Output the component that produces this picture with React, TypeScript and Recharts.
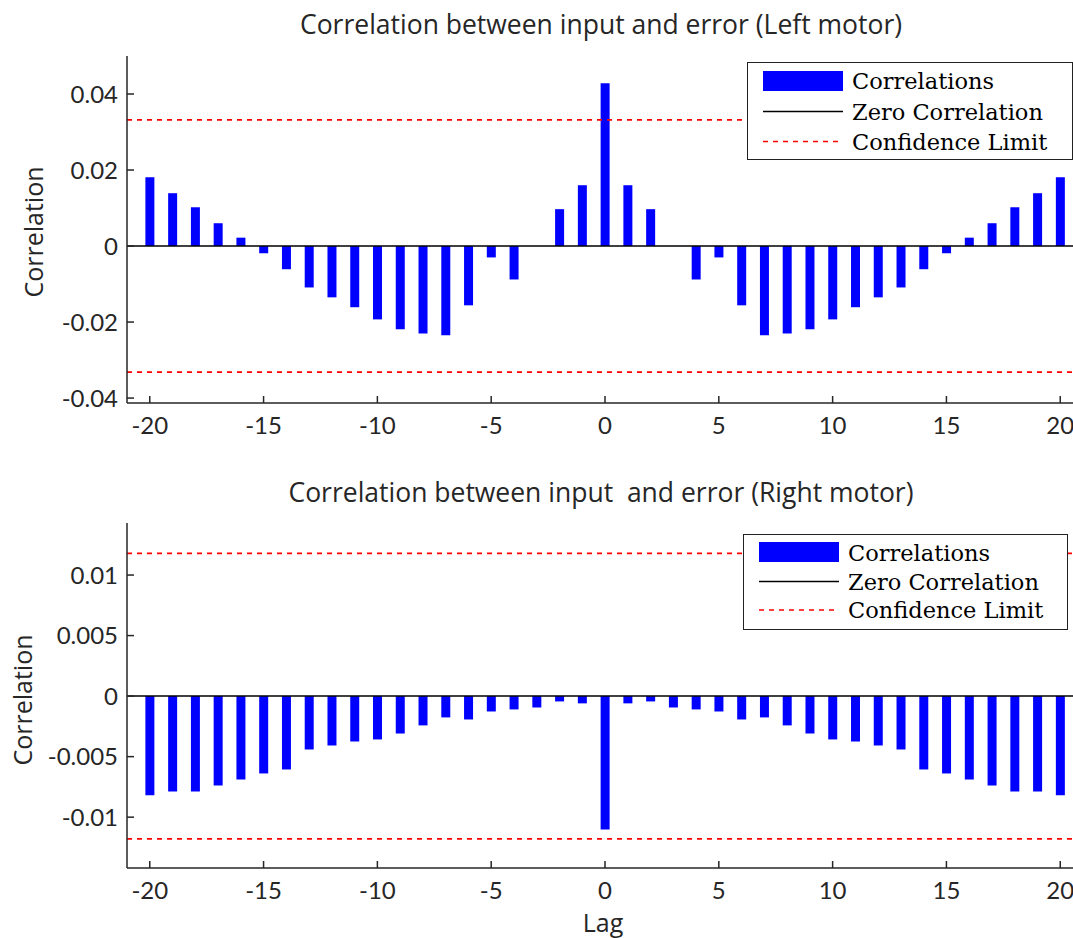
import React from 'react';
import { ComposedChart, Bar, XAxis, YAxis, ReferenceLine, Legend } from 'recharts';

const lags = [-20, -19, -18, -17, -16, -15, -14, -13, -12, -11, -10, -9, -8, -7, -6, -5, -4, -3, -2, -1, 0, 1, 2, 3, 4, 5, 6, 7, 8, 9, 10, 11, 12, 13, 14, 15, 16, 17, 18, 19, 20];

const leftCorr = [0.0181, 0.0139, 0.0102, 0.006, 0.0022, -0.0019, -0.0061, -0.0109, -0.0135, -0.0161, -0.0193, -0.0219, -0.023, -0.0235, -0.0156, -0.003, -0.0088, 0, 0.0097, 0.016, 0.0428, 0.016, 0.0097, 0, -0.0088, -0.003, -0.0156, -0.0235, -0.023, -0.0219, -0.0193, -0.0161, -0.0135, -0.0109, -0.0061, -0.0019, 0.0022, 0.006, 0.0102, 0.0139, 0.0181];

const rightCorr = [-0.0082, -0.00788, -0.00788, -0.00738, -0.00689, -0.00639, -0.00606, -0.00441, -0.00408, -0.00375, -0.00358, -0.00309, -0.00242, -0.00176, -0.00193, -0.00127, -0.0011, -0.00094, -0.00044, -0.0006, -0.01102, -0.0006, -0.00044, -0.00094, -0.0011, -0.00127, -0.00193, -0.00176, -0.00242, -0.00309, -0.00358, -0.00375, -0.00408, -0.00441, -0.00606, -0.00639, -0.00689, -0.00738, -0.00788, -0.00788, -0.0082];

const leftConf = 0.0332;
const rightConf = 0.0118;

const xTicks = [-20, -15, -10, -5, 0, 5, 10, 15, 20];
const leftYTicks = [-0.04, -0.02, 0, 0.02, 0.04];
const rightYTicks = [-0.01, -0.005, 0, 0.005, 0.01];

const legendLabels = ['Correlations', 'Zero Correlation', 'Confidence Limit'];
const titles = ['Correlation between input and error (Left motor)', 'Correlation between input  and error (Right motor)'];

const leftData = lags.map((lag, i) => ({ lag, value: leftCorr[i] }));
const rightData = lags.map((lag, i) => ({ lag, value: rightCorr[i] }));

const FONT = 'Lato, "Open Sans", sans-serif';
const LFONT = '"Open Sans", Lato, sans-serif';
const AX = '#262626';

const makeLegend = (w: number, h: number, rows: number[], patchTop: number) => () => (
  <div
    style={{
      width: w,
      height: h,
      boxSizing: 'border-box',
      border: '1.5px solid #222',
      background: '#fff',
      position: 'relative',
      color: '#000',
    }}
  >
    <svg width={w} height={h} style={{ position: 'absolute', left: -1.5, top: -1.5 }}>
      <rect x={16} y={patchTop} width={80} height={20} fill="#0000ff" />
      <line x1={16} x2={96} y1={rows[1]} y2={rows[1]} stroke="#000" strokeWidth={1.5} />
      <line x1={16} x2={96} y1={rows[2]} y2={rows[2]} stroke="#ff0000" strokeWidth={1.5} strokeDasharray="5 5" />
      {legendLabels.map((t, i) => (
        <text key={t} x={105} y={rows[i]} dominantBaseline="central" fontFamily='"DejaVu Serif", serif' fontSize={22.5} fill="#000">
          {t}
        </text>
      ))}
    </svg>
  </div>
);

function Panel(props: {
  data: { lag: number; value: number }[];
  height: number;
  top: number;
  bottom: number;
  yDomain: [number, number];
  yTicks: number[];
  conf: number;
  legend: () => React.ReactElement;
  legendPos: { left: number; top: number; width: number; height: number };
}) {
  const { data, height, top, bottom, yDomain, yTicks, conf, legend, legendPos } = props;
  return (
    <ComposedChart width={1100} height={height} data={data} margin={{ top, right: 17, bottom, left: 47 }}>
      <XAxis
        dataKey="lag"
        type="number"
        domain={[-21, 21]}
        ticks={xTicks}
        interval={0}
        allowDataOverflow
        height={40}
        tickSize={-7}
        tickMargin={21}
        axisLine={{ stroke: AX, strokeWidth: 1.5 }}
        tickLine={{ stroke: AX, strokeWidth: 1.5 }}
        tick={{ fill: AX, fontSize: 24, fontFamily: FONT }}
      />
      <XAxis
        xAxisId="top"
        orientation="top"
        dataKey="lag"
        type="number"
        domain={[-21, 21]}
        ticks={xTicks}
        interval={0}
        allowDataOverflow
        height={0}
        tickSize={-7}
        axisLine={{ stroke: AX, strokeWidth: 1.5 }}
        tickLine={{ stroke: AX, strokeWidth: 1.5 }}
        tick={false}
      />
      <YAxis
        type="number"
        domain={yDomain}
        ticks={yTicks}
        interval={0}
        allowDataOverflow
        width={80}
        tickSize={-7}
        tickMargin={16}
        axisLine={{ stroke: AX, strokeWidth: 1.5 }}
        tickLine={{ stroke: AX, strokeWidth: 1.5 }}
        tick={{ fill: AX, fontSize: 24, fontFamily: FONT }}
        tickFormatter={(v: number) => String(v)}
      />
      <Bar dataKey="value" fill="#0000ff" barSize={9} isAnimationActive={false} />
      <ReferenceLine y={0} stroke="#000" strokeWidth={1.5} />
      <ReferenceLine y={conf} stroke="#ff0000" strokeWidth={1.75} strokeDasharray="5 5" />
      <ReferenceLine y={-conf} stroke="#ff0000" strokeWidth={1.75} strokeDasharray="5 5" />
      <Legend
        layout="horizontal"
        verticalAlign="middle"
        align="center"
        content={legend}
        wrapperStyle={{ left: legendPos.left, top: legendPos.top, width: legendPos.width, height: legendPos.height }}
      />
    </ComposedChart>
  );
}

export default function App() {
  return (
    <div style={{ position: 'absolute', left: 0, top: 0, width: 1073, height: 938, overflow: 'hidden', background: '#fff' }}>
      <div style={{ position: 'absolute', left: 0, top: 0 }}>
        <Panel
          data={leftData}
          height={460}
          top={56}
          bottom={17}
          yDomain={[-0.0413, 0.05]}
          yTicks={leftYTicks}
          conf={leftConf}
          legend={makeLegend(326, 98, [19, 49.5, 79.5], 9)}
          legendPos={{ left: 747, top: 62, width: 326, height: 98 }}
        />
      </div>
      <div style={{ position: 'absolute', left: 0, top: 460 }}>
        <Panel
          data={rightData}
          height={478}
          top={63}
          bottom={30}
          yDomain={[-0.0142, 0.0143]}
          yTicks={rightYTicks}
          conf={rightConf}
          legend={makeLegend(325, 96, [19, 47.5, 76], 8)}
          legendPos={{ left: 743, top: 74, width: 325, height: 96 }}
        />
      </div>
      <svg width={1073} height={938} style={{ position: 'absolute', left: 0, top: 0, pointerEvents: 'none' }}>
        <text x={601} y={34} textAnchor="middle" fontFamily={LFONT} fontSize={26.5} fill={AX} style={{ whiteSpace: 'pre' }}>{titles[0]}</text>
        <text x={601} y={502} textAnchor="middle" fontFamily={LFONT} fontSize={26.5} fill={AX} style={{ whiteSpace: 'pre' }}>{titles[1]}</text>
        <text transform="translate(43,232) rotate(-90)" textAnchor="middle" fontFamily={LFONT} fontSize={25} fill={AX}>Correlation</text>
        <text transform="translate(32,700) rotate(-90)" textAnchor="middle" fontFamily={LFONT} fontSize={25} fill={AX}>Correlation</text>
        <text x={603} y={932} textAnchor="middle" fontFamily={LFONT} fontSize={25} fill={AX}>Lag</text>
      </svg>
    </div>
  );
}
